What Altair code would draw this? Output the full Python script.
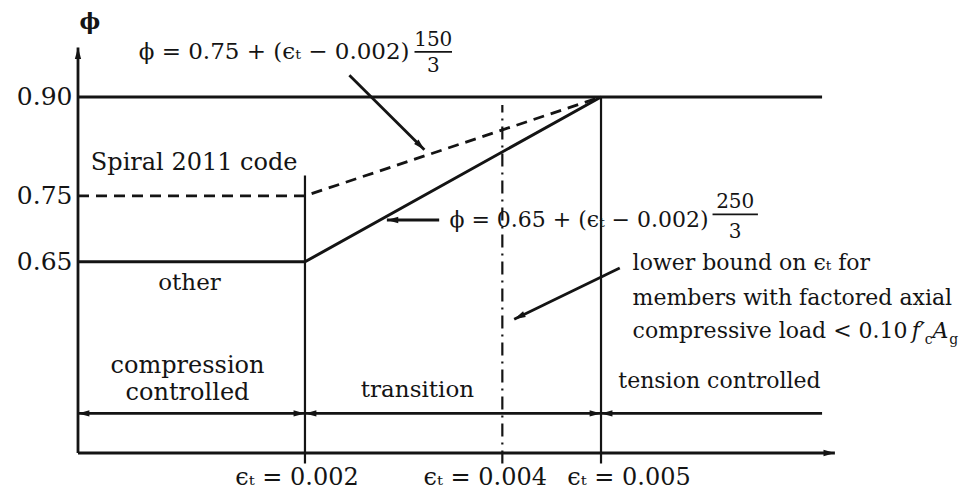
import altair as alt
import pandas as pd

# ---- values ---------------------------------------------------------------
# net tensile strain limits marked on the ϵt axis
eps_limits = [0.002, 0.004, 0.005]
eps_labels = ["ϵₜ = 0.002", "ϵₜ = 0.004", "ϵₜ = 0.005"]

# strength reduction factor levels labelled on the φ axis
phi_ticks = [0.65, 0.75, 0.90]

# φ versus ϵt, breakpoints of the two curves
curve_eps = [-0.0003, 0.002, 0.005]
phi_spiral = [0.75, 0.75, 0.90]
phi_other = [0.65, 0.65, 0.90]

# extent of the diagram (data units)
EPS_MIN, EPS_MAX = -0.0003, 0.00881
PHI_MIN, PHI_MAX = 0.36, 1.0471
EPS_AXIS_END = 0.00737   # tip of the ϵt axis arrow
EPS_LINE_END = 0.00724   # right end of the 0.90 cap and the zone line
PHI_AXIS_END = 0.975     # tip of the φ axis arrow
PHI_ZONES = 0.42         # height of the zone arrows
PHI_CAP = 0.90

SERIF = "DejaVu Serif"
INK = "#141414"

xscale = alt.Scale(domain=[EPS_MIN, EPS_MAX], nice=False, zero=False)
yscale = alt.Scale(domain=[PHI_MIN, PHI_MAX], nice=False, zero=False)
yaxis = alt.Axis(values=phi_ticks, format=".2f", domain=False, ticks=False,
                 grid=False, labelFont=SERIF, labelFontSize=25,
                 labelColor=INK, labelPadding=6, title=None)


def X(f="eps"):
    return alt.X(f"{f}:Q", scale=xscale, axis=None)


def Y(f="phi"):
    return alt.Y(f"{f}:Q", scale=yscale, axis=yaxis)


# ---- curves ---------------------------------------------------------------
curves = pd.DataFrame({
    "eps": curve_eps * 2,
    "phi": phi_spiral + phi_other,
    "series": ["spiral"] * 3 + ["other"] * 3,
})
spiral_line = alt.Chart(curves[curves.series == "spiral"]).mark_line(
    color=INK, strokeWidth=2.8, strokeDash=[11, 7]).encode(x=X(), y=Y())
other_line = alt.Chart(curves[curves.series == "other"]).mark_line(
    color=INK, strokeWidth=3.0).encode(x=X(), y=Y())

# ---- straight strokes: axes, cap, zone line, leaders -----------------------
strokes = pd.DataFrame({
    "eps":  [EPS_MIN, EPS_MIN, EPS_MIN, EPS_MIN, 0.00245, 0.00336, 0.00519],
    "eps2": [EPS_MIN, EPS_AXIS_END, EPS_LINE_END, EPS_LINE_END, 0.00321, 0.00283, 0.00412],
    "phi":  [PHI_MIN, PHI_MIN, PHI_CAP, PHI_ZONES, 0.933, 0.7134, 0.6406],
    "phi2": [PHI_AXIS_END, PHI_MIN, PHI_CAP, PHI_ZONES, 0.820, 0.7134, 0.5630],
})
stroke_layer = alt.Chart(strokes).mark_rule(color=INK, strokeWidth=2.8).encode(
    x=X(), x2="eps2:Q", y=Y(), y2="phi2:Q")

# fraction bars of the two formulas
bars = pd.DataFrame({
    "eps": [0.00311, 0.00613], "eps2": [0.00349, 0.00659],
    "phi": [0.9684, 0.7219],
})
bar_layer = alt.Chart(bars).mark_rule(color=INK, strokeWidth=1.8).encode(
    x=X(), x2="eps2:Q", y=Y())

# vertical limit lines
limits = pd.DataFrame({
    "eps": eps_limits,
    "phi": [0.344, 0.344, 0.344],
    "phi2": [0.781, 0.888, PHI_CAP],
    "style": ["solid", "dashdot", "solid"],
})
limit_solid = alt.Chart(limits[limits["style"] == "solid"]).mark_rule(
    color=INK, strokeWidth=2.2).encode(x=X(), y=Y(), y2="phi2:Q")
limit_dashdot = alt.Chart(limits[limits["style"] == "dashdot"]).mark_rule(
    color=INK, strokeWidth=2.2, strokeDash=[13, 6, 2, 6]).encode(
    x=X(), y=Y(), y2="phi2:Q")

# ---- arrowheads (tip at the data point, rotated clockwise from "right") -----
ARROW = "M0,0L-2,-0.55L-2,0.55Z"
heads = pd.DataFrame({
    "eps": [EPS_MIN, EPS_AXIS_END, EPS_MIN, 0.002, 0.002, 0.005, 0.005,
            0.00321, 0.00283, 0.00412],
    "phi": [PHI_AXIS_END, PHI_MIN, PHI_ZONES, PHI_ZONES, PHI_ZONES,
            PHI_ZONES, PHI_ZONES, 0.820, 0.7134, 0.5630],
    "angle": [270, 0, 180, 0, 180, 0, 180, 45, 180, 154],
})
head_layer = alt.Chart(heads).mark_point(
    shape=ARROW, filled=True, color=INK, opacity=1, size=130, strokeWidth=0
).encode(x=X(), y=Y(), angle=alt.Angle("angle:Q", scale=None))


# ---- text -------------------------------------------------------------------
def text_layer(rows, align="center", size=22, **kw):
    df = pd.DataFrame(rows, columns=["eps", "phi", "label"])
    return alt.Chart(df).mark_text(
        align=align, baseline="middle", font=SERIF, fontSize=size,
        color=INK, **kw).encode(x=X(), y=Y(), text="label:N")


zone_big = text_layer([
    (0.00081, 0.4920, "compression"),
    (0.00081, 0.4510, "controlled"),
], size=24)
centered = text_layer([
    (0.00083, 0.618, "other"),
    (0.00314, 0.4556, "transition"),
], size=23)
tension = text_layer([
    (0.00620, 0.4692, "tension controlled"),
], size=22)
fractions = text_layer([
    (0.00330, 0.9857, "150"),
    (0.00330, 0.9463, "3"),
    (0.00636, 0.7407, "250"),
    (0.00636, 0.6952, "3"),
], size=20)
formula_top = text_layer([
    (0.00306, 0.9682, "ϕ = 0.75 + (ϵₜ − 0.002)"),
], align="right", size=23)
formula_mid = text_layer([
    (0.00609, 0.7134, "ϕ = 0.65 + (ϵₜ − 0.002)"),
], align="right", size=22)
spiral_note = text_layer([
    (-0.00017, 0.7999, "Spiral 2011 code"),
], align="left", size=24)
left_notes = text_layer([
    (0.00532, 0.6482, "lower bound on ϵₜ for"),
    (0.00532, 0.5951, "members with factored axial"),
    (0.00532, 0.5451, "compressive load < 0.10"),
], align="left")
fc_ag = text_layer([
    (0.00815, 0.5451, "f′"),
    (0.00836, 0.5451, "A"),
], align="left", fontStyle="italic")
fc_ag_sub = text_layer([
    (0.00828, 0.5451, "c"),
    (0.00853, 0.5451, "g"),
], align="left", size=14, dy=9)
phi_title = text_layer([(-0.00018, 1.0137, "ϕ")], size=22, fontWeight="bold")

# strain labels under the ϵt axis, each set off from its limit line
eps_text = [
    text_layer([(e, 0.3224, lab)], size=24, dx=off)
    for e, lab, off in zip(eps_limits, eps_labels, [-8, -17, 28])
]

chart = alt.layer(
    stroke_layer, bar_layer, limit_solid, limit_dashdot,
    spiral_line, other_line, head_layer,
    zone_big, centered, tension, fractions, formula_top, formula_mid,
    spiral_note, left_notes, fc_ag, fc_ag_sub, phi_title,
    *eps_text,
).properties(
    width=899, height=453,
    autosize=alt.AutoSizeParams(type="none"),
    padding={"left": 78, "top": 0, "right": 0, "bottom": 51},
    background="white",
).configure_view(stroke=None)

chart.save("out.html", embed_options={"renderer": "svg", "actions": False})
